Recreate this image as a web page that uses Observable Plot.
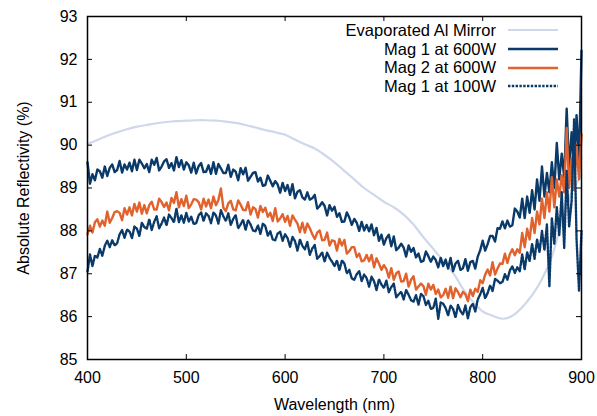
<!DOCTYPE html>
<html>
<head>
<meta charset="utf-8">
<script src="https://cdn.jsdelivr.net/npm/d3@7"></script>
<script src="https://cdn.jsdelivr.net/npm/@observablehq/plot@0.6"></script>
<style>
  html, body { margin: 0; padding: 0; background: #fff; }
  #wrap { position: relative; width: 597px; height: 416px; font-family: "Liberation Sans", Arial, Helvetica, sans-serif; }
  #legend { position: absolute; left: 280px; top: 21px; font-size: 16.5px; color: #000; }
  #legend .row { display: flex; align-items: center; height: 18.7px; }
  #legend .lab { width: 216px; text-align: right; white-space: nowrap; }
  #legend svg { display: block; }
</style>
</head>
<body>
<div id="wrap"></div>
<script>
// Sampling grid of the spectrometer data (nm)
const wavelength = d3.range(400, 900.01, 2.5);

// Evaporated Al mirror (smooth), own grid every 10 nm
const alWavelength = [400,410,420,430,440,450,460,470,480,490,500,510,520,530,540,550,560,570,580,590,600,610,620,630,640,650,660,670,680,690,700,710,720,730,740,750,760,770,780,790,800,810,820,830,840,850,860,870,880,890,900];
const alMirror = [90.03,90.12,90.22,90.3,90.37,90.43,90.47,90.51,90.54,90.56,90.57,90.58,90.58,90.57,90.55,90.52,90.47,90.41,90.35,90.3,90.24,90.13,90.02,89.92,89.77,89.6,89.4,89.2,89.0,88.84,88.68,88.55,88.38,88.15,87.85,87.58,87.3,87.02,86.65,86.35,86.12,86.02,85.95,86.02,86.22,86.5,86.88,87.4,88.2,88.9,89.3];

// Mag 1 at 600W
const mag1at600 = [
89.6,89.1,89.32,89.18, 89.43,89.39,89.24,89.5, 89.28,89.47,89.55,89.37,
89.42,89.63,89.36,89.55, 89.43,89.59,89.39,89.66, 89.42,89.66,89.57,89.46,
89.56,89.37,89.66,89.54, 89.7,89.41,89.5,89.62, 89.67,89.47,89.58,89.41,
89.72,89.49,89.65,89.43, 89.6,89.53,89.36,89.59, 89.34,89.51,89.58,89.37,
89.38,89.53,89.33,89.6, 89.33,89.56,89.46,89.35, 89.35,89.54,89.26,89.43,
89.38,89.18,89.46,89.32, 89.47,89.17,89.26,89.35, 89.37,89.15,89.24,89.05,
89.07,89.29,89.17,89.04, 89.16,89.08,88.89,89.12, 88.93,89.07,88.84,89.09,
88.76,88.91,88.95,88.78, 88.73,88.9,88.73,88.76, 88.84,88.52,88.58,88.67,
88.58,88.36,88.6,88.47, 88.56,88.33,88.41,88.21, 88.22,88.43,88.31,88.14,
88.28,88.19,88.0,88.21, 88.01,88.14,87.99,88.15, 87.9,88.07,87.77,87.91,
87.68,87.83,87.91,87.64, 87.87,87.55,87.61,87.7, 87.61,87.4,87.66,87.51,
87.6,87.38,87.47,87.28, 87.3,87.52,87.41,87.28, 87.4,87.32,87.15,87.37,
87.18,87.33,87.12,87.37, 87.06,87.24,87.3,87.09, 87.13,87.34,87.07,87.27,
87.3,87.12,87.4,87.55, 87.77,87.54,87.69,87.88, 87.88,87.75,88.06,88.05,
88.22,88.06,88.24,88.1, 88.13,88.52,88.45,88.31, 88.75,88.3,88.8,88.42,
88.95,88.5,89.2,88.7, 89.5,88.8,89.35,88.9, 89.6,89.0,90.05,89.2,
89.8,89.25,90.85,89.45, 90.3,89.4,90.7,89.6, 92.2];

// Mag 2 at 600W
const mag2at600 = [
87.92,88.12,87.96,88.2, 88.27,88.1,88.24,88.12, 88.45,88.19,88.3,88.44,
88.46,88.42,88.25,88.53, 88.38,88.55,88.36,88.63, 88.45,88.66,88.4,88.6,
88.41,88.6,88.68,88.5, 88.5,88.75,88.67,88.56, 88.66,88.48,88.77,88.65,
88.9,88.55,88.74,88.58, 88.82,88.53,88.62,88.74, 88.73,88.67,88.5,88.75,
88.57,88.73,88.53,88.8, 88.6,88.72,88.99,88.54, 88.46,88.64,88.7,88.5,
88.48,88.71,88.61,88.49, 88.48,88.67,88.38,88.55, 88.51,88.31,88.58,88.44,
88.54,88.33,88.42,88.23, 88.53,88.22,88.29,88.39, 88.21,88.35,88.12,88.36,
88.26,88.17,87.97,88.19, 87.96,88.17,88.06,87.92, 87.81,87.96,88.01,87.78,
87.79,87.96,87.66,87.78, 87.76,87.54,87.81,87.66, 87.79,87.47,87.53,87.62,
87.62,87.39,87.47,87.29, 87.31,87.44,87.29,87.44, 87.15,87.36,87.24,87.09,
87.2,87.11,86.91,87.13, 86.86,87.01,87.05,86.82, 86.83,87.0,86.7,86.86,
86.94,86.63,86.7,86.77, 86.71,86.51,86.77,86.63, 86.74,86.53,86.63,86.45,
86.5,86.65,86.44,86.7, 86.43,86.66,86.57,86.45, 86.58,86.52,86.36,86.63,
86.48,86.65,86.58,86.85, 86.78,86.98,87.1,86.96, 87.27,86.98,87.12,87.24,
87.23,87.47,87.25,87.46, 87.57,87.43,87.57,87.49, 87.95,87.62,88.05,87.8,
88.3,87.95,88.45,88.15, 88.75,88.3,88.9,88.45, 89.25,88.55,89.2,88.8,
89.3,88.9,90.4,89.0, 89.7,88.95,90.0,89.2, 90.25];

// Mag 1 at 100W
const mag1at100 = [
87.05,87.45,87.18,87.42, 87.38,87.58,87.42,87.65, 87.77,87.62,87.78,87.66,
87.71,87.92,88.02,87.84, 88.03,87.99,87.83,88.1, 88.05,87.88,88.19,88.09,
88.05,88.27,88.02,88.21, 88.34,88.06,88.17,88.31, 88.13,88.38,88.3,88.2,
88.52,88.2,88.36,88.19, 88.42,88.22,88.33,88.16, 88.18,88.36,88.43,88.23,
88.41,88.35,88.18,88.43, 88.36,88.17,88.48,88.34, 88.23,88.41,88.14,88.28,
88.37,88.06,88.15,88.26, 88.02,88.25,88.15,88.01, 87.99,88.13,87.93,88.17,
88.11,87.89,87.99,87.8, 87.78,87.94,87.98,87.77, 87.92,87.83,87.63,87.86,
87.76,87.54,87.8,87.65, 87.57,87.74,87.44,87.59, 87.67,87.35,87.41,87.5,
87.28,87.49,87.37,87.28, 87.18,87.31,87.08,87.31, 87.24,87.01,87.09,86.89,
86.86,86.99,87.06,86.83, 86.98,86.9,86.7,86.93, 86.83,86.62,86.87,86.75,
86.67,86.84,86.57,86.69, 86.77,86.45,86.52,86.58, 86.4,86.62,86.51,86.38,
86.35,86.5,86.28,86.53, 86.48,86.27,86.37,86.18, 86.2,86.42,85.95,86.33,
86.3,86.2,86.03,86.26, 86.18,85.98,86.27,86.13, 86.05,86.26,85.96,86.22,
86.3,86.12,86.4,86.52, 86.67,86.43,86.55,86.73, 86.6,86.88,86.84,86.78,
86.81,86.99,86.86,87.08, 87.17,87.02,87.15,87.06, 87.45,87.1,87.5,87.3,
87.7,87.35,87.8,87.5, 88.0,87.55,88.15,86.7, 88.3,87.7,88.55,87.9,
88.9,87.6,89.4,88.1, 88.7,90.6,87.8,86.6, 88.0];

const seriesNames = ["Evaporated Al Mirror", "Mag 1 at 600W", "Mag 2 at 600W", "Mag 1 at 100W"];
const seriesColors = ["#cfd8eb", "#0a3a69", "#e2622d", "#0a3a69"];
const xTicks = [400, 500, 600, 700, 800, 900];
const yTicks = [85, 86, 87, 88, 89, 90, 91, 92, 93];

const alData = alWavelength.map((w, i) => ({w, r: alMirror[i]}));
const toRows = (vals) => wavelength.map((w, i) => ({w, r: vals[i]}));
const m1h = toRows(mag1at600);
const m2h = toRows(mag2at600);
const m1l = toRows(mag1at100);

const W = 597, H = 416, mL = 87, mR = 16, mT = 16, mB = 57;
const fw = W - mL - mR, fh = H - mT - mB;

const chart = Plot.plot({
  width: W, height: H,
  marginLeft: mL, marginRight: mR, marginTop: mT, marginBottom: mB,
  style: {fontFamily: '"Liberation Sans", Arial, Helvetica, sans-serif', fontSize: "16px", color: "#000", background: "#fff", overflow: "visible"},
  x: {domain: [400, 900]},
  y: {domain: [85, 93]},
  marks: [
    Plot.line(alData, {x: "w", y: "r", stroke: seriesColors[0], strokeWidth: 2.2, curve: "catmull-rom"}),
    Plot.line(m1h, {x: "w", y: "r", stroke: seriesColors[1], strokeWidth: 2.4}),
    Plot.line(m2h, {x: "w", y: "r", stroke: seriesColors[2], strokeWidth: 2.4}),
    Plot.line(m1l, {x: "w", y: "r", stroke: seriesColors[3], strokeWidth: 2.4, strokeDasharray: "2,1.4"}),
    Plot.tickX(xTicks, {x: d => d, stroke: "#000", strokeWidth: 1, insetTop: fh - 5}),
    Plot.tickX(xTicks, {x: d => d, stroke: "#000", strokeWidth: 1, insetBottom: fh - 5}),
    Plot.tickY(yTicks, {y: d => d, stroke: "#000", strokeWidth: 1, insetRight: fw - 5}),
    Plot.tickY(yTicks, {y: d => d, stroke: "#000", strokeWidth: 1, insetLeft: fw - 5}),
    Plot.axisX(xTicks, {tickSize: 0, tickPadding: 12, fontSize: 16, label: "Wavelength (nm)", labelAnchor: "center", labelArrow: "none", labelOffset: 50}),
    Plot.axisY(yTicks, {tickSize: 0, tickPadding: 10, fontSize: 16, label: "Absolute Reflectivity (%)", labelAnchor: "center", labelArrow: "none", labelOffset: 70}),
    Plot.frame({stroke: "#000", strokeWidth: 1.5})
  ]
});

const wrap = document.getElementById("wrap");
wrap.appendChild(chart);

// Legend (inside plot area, top right)
const legend = document.createElement("div");
legend.id = "legend";
seriesNames.forEach((name, i) => {
  const row = document.createElement("div");
  row.className = "row";
  const lab = document.createElement("span");
  lab.className = "lab";
  lab.textContent = name;
  row.appendChild(lab);
  const ns = "http://www.w3.org/2000/svg";
  const s = document.createElementNS(ns, "svg");
  s.setAttribute("width", "62"); s.setAttribute("height", "10");
  const ln = document.createElementNS(ns, "line");
  ln.setAttribute("x1", "12"); ln.setAttribute("x2", "62");
  ln.setAttribute("y1", "5"); ln.setAttribute("y2", "5");
  ln.setAttribute("stroke", seriesColors[i]);
  ln.setAttribute("stroke-width", i === 0 ? "2.2" : "2.4");
  if (i === 3) ln.setAttribute("stroke-dasharray", "2.4,1.4");
  s.appendChild(ln);
  row.appendChild(s);
  legend.appendChild(row);
});
wrap.appendChild(legend);
</script>
</body>
</html>
